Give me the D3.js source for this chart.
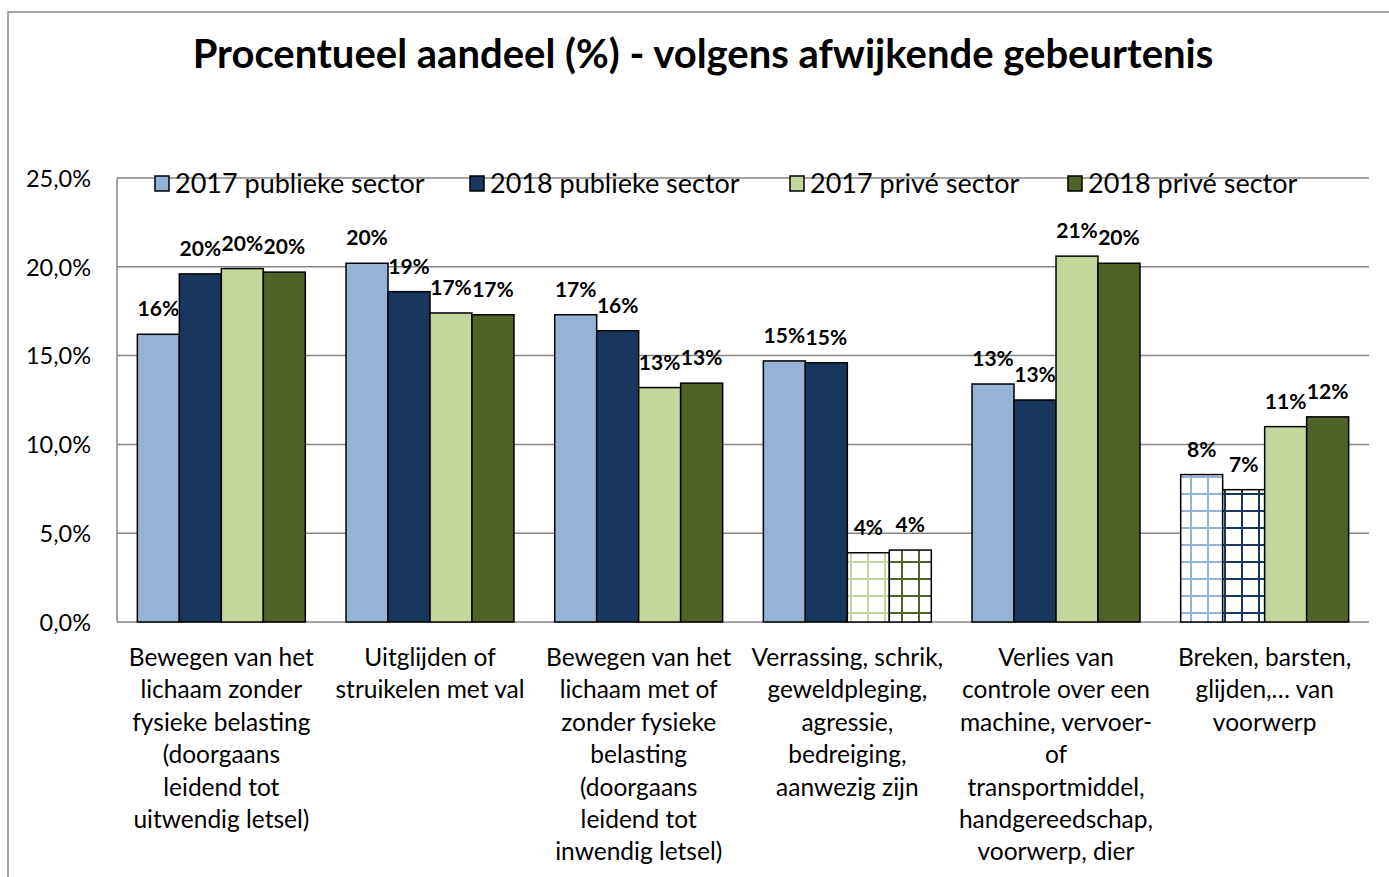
<!DOCTYPE html>
<html>
<head>
<meta charset="utf-8">
<script src="https://cdn.jsdelivr.net/npm/d3@7"></script>
<style>
body { margin:0; background:#fff; }
text { font-family: Lato, "Open Sans", sans-serif; fill:#000; }
.title { font-weight:bold; }
.lbl { font-weight:bold; }
.grid line { stroke:#868686; stroke-width:1.5; }
</style>
</head>
<body>
<svg id="chart" width="1389" height="877"></svg>
<script>
// data
const categories = [
    ["Bewegen van het","lichaam zonder","fysieke belasting","(doorgaans","leidend tot","uitwendig letsel)"],
    ["Uitglijden of","struikelen met val"],
    ["Bewegen van het","lichaam met of","zonder fysieke","belasting","(doorgaans","leidend tot","inwendig letsel)"],
    ["Verrassing, schrik,","geweldpleging,","agressie,","bedreiging,","aanwezig zijn"],
    ["Verlies van","controle over een","machine, vervoer-","of","transportmiddel,","handgereedschap,","voorwerp, dier"],
    ["Breken, barsten,","glijden,\u2026 van","voorwerp"]
]
const series = ["2017 publieke sector","2018 publieke sector","2017 privé sector","2018 privé sector"]
const pub2017 = [16.2, 20.2, 17.3, 14.7, 13.4, 8.3]
const pub2018 = [19.6, 18.6, 16.4, 14.6, 12.5, 7.45]
const priv2017 = [19.9, 17.4, 13.2, 3.9, 20.6, 11.0]
const priv2018 = [19.7, 17.3, 13.45, 4.05, 20.2, 11.55]
const yTicks = [0, 5, 10, 15, 20, 25]
const title = "Procentueel aandeel (%) - volgens afwijkende gebeurtenis"

const colors = ["#95B3D7", "#17375E", "#C4D79B", "#4F6228"]
// bars drawn with a grid pattern instead of a fill: [category, series]
const hatched = [[3,2],[3,3],[5,0],[5,1]]

const values = [pub2017, pub2018, priv2017, priv2018]
const rows = []
categories.forEach(function (c, ci) {
    series.forEach(function (s, si) {
        rows.push({ci: ci, si: si, v: values[si][ci],
            hatch: hatched.some(function (h) { return h[0] === ci && h[1] === si })})
    })
})

const svg = d3.select("#chart")

// outer frame
svg.append("rect").attr("x", 8).attr("y", 12).attr("width", 1400).attr("height", 900)
    .attr("fill", "none").attr("stroke", "#888").attr("stroke-width", 1.5)

// patterns
const defs = svg.append("defs")
colors.forEach(function (c, i) {
    let p = defs.append("pattern").attr("id", "hatch" + i)
        .attr("patternUnits", "userSpaceOnUse").attr("width", 17).attr("height", 17)
    p.append("rect").attr("width", 17).attr("height", 17).attr("fill", "#fff")
    p.append("rect").attr("x", 0).attr("y", 0).attr("width", 17).attr("height", 2).attr("fill", c)
    p.append("rect").attr("x", 0).attr("y", 0).attr("width", 2).attr("height", 17).attr("fill", c)
})

const plotLeft = 117, plotRight = 1369, plotTop = 178, plotBottom = 622

let x0 = d3.scaleBand().domain(d3.range(categories.length)).range([plotLeft, plotRight])
let x1 = d3.scaleBand().domain(d3.range(series.length)).range([0, x0.bandwidth()]).paddingOuter(0.485)
let y = d3.scaleLinear().domain([0, 25]).range([plotBottom, plotTop])

// gridlines
let grid = svg.append("g").attr("class", "grid")
grid.selectAll("line").data(yTicks).enter().append("line")
    .attr("x1", plotLeft).attr("x2", plotRight)
    .attr("y1", function (d) { return y(d) }).attr("y2", function (d) { return y(d) })
svg.append("line").attr("x1", plotLeft).attr("x2", plotLeft).attr("y1", plotTop).attr("y2", plotBottom)
    .attr("stroke", "#868686").attr("stroke-width", 1.5)

// y axis
let y_axis = d3.axisLeft(y).tickValues(yTicks).tickSize(0).tickPadding(0)
    .tickFormat(function (d) { return d3.format(".1f")(d).replace(".", ",") + "%" })
svg.append("g").attr("transform", `translate(${91},0)`).call(y_axis)
    .call(function (g) { g.select(".domain").remove() })
    .selectAll("text").style("font-size", "23.5px").attr("font-family", null).attr("dy", "0.35em")
svg.selectAll(".tick text").attr("fill", null)

// bars
svg.selectAll(".bar").data(rows).enter().append("rect")
    .attr("class", "bar")
    .attr("x", function (d) { return x0(d.ci) + x1(d.si) })
    .attr("width", x1.bandwidth())
    .attr("y", function (d) { return y(d.v) })
    .attr("height", function (d) { return y(0) - y(d.v) })
    .attr("fill", function (d) { return d.hatch ? `url(#hatch${d.si})` : colors[d.si] })
    .attr("stroke", "#000").attr("stroke-width", 1.5)

// data labels
svg.selectAll(".lbl").data(rows).enter().append("text")
    .attr("class", "lbl")
    .attr("x", function (d) { return x0(d.ci) + x1(d.si) + x1.bandwidth() / 2 })
    .attr("y", function (d) { return y(d.v) - 18 })
    .attr("text-anchor", "middle")
    .style("font-size", "21px")
    .text(function (d) { return Math.round(d.v) + "%" })

// category labels
categories.forEach(function (lines, ci) {
    let t = svg.append("text").attr("text-anchor", "middle").style("font-size", "24.5px")
        .attr("transform", `translate(${x0(ci) + x0.bandwidth() / 2},${666})`)
    lines.forEach(function (l, i) {
        t.append("tspan").attr("x", 0).attr("y", i * 32.4).text(l)
    })
})

// legend
const legendX = [155, 470, 790, 1068]
series.forEach(function (s, i) {
    let lg = svg.append("g").attr("transform", `translate(${legendX[i]},${176})`)
    lg.append("rect").attr("width", 14).attr("height", 15)
        .attr("fill", colors[i]).attr("stroke", "#000").attr("stroke-width", 1.5)
    lg.append("text").attr("x", 20).attr("y", 17).style("font-size", "27px").text(s)
})

// title
svg.append("text").attr("class", "title")
    .attr("x", 703).attr("y", 68).attr("text-anchor", "middle")
    .style("font-size", "40px").text(title)
</script>
</body>
</html>
